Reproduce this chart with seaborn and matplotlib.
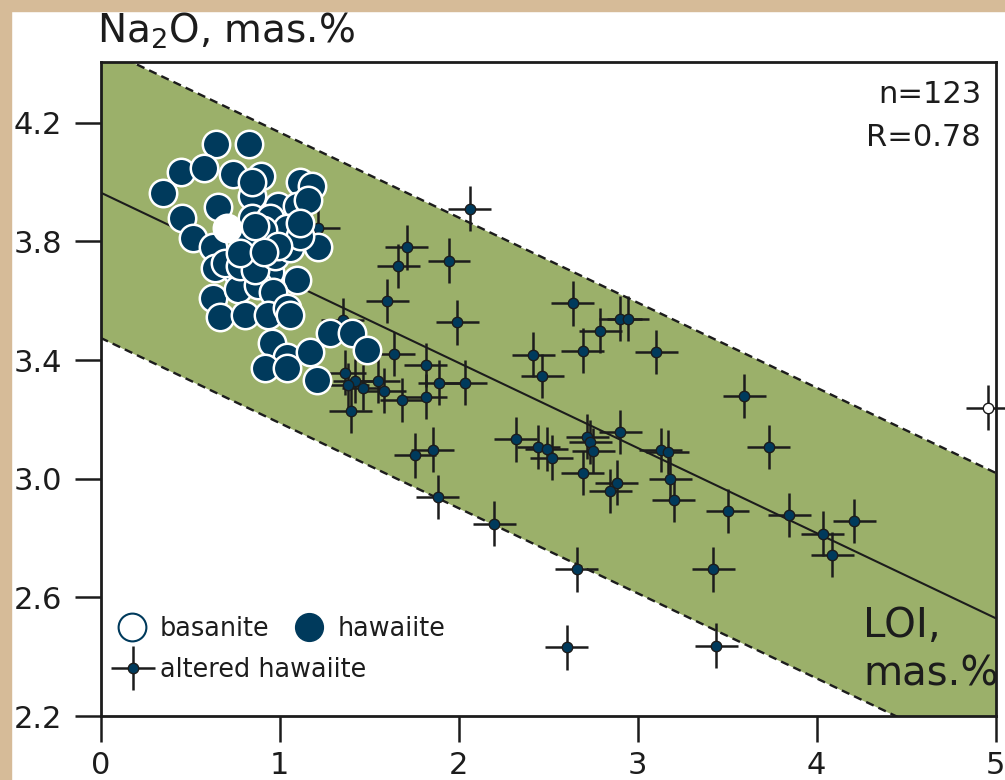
import numpy as np
import pandas as pd
import matplotlib
matplotlib.use("Agg")
import matplotlib.pyplot as plt
from matplotlib.patches import Rectangle
from matplotlib.lines import Line2D
from matplotlib.container import ErrorbarContainer
from matplotlib.legend_handler import HandlerErrorbar
import seaborn as sns

# ---- data: LOI (mas.%) vs Na2O (mas.%) ----
hawaiite_loi = [0.643, 0.829, 0.447, 0.577, 0.741, 0.896, 1.114, 1.179, 0.347, 0.844,
                0.654, 0.993, 1.096, 1.160, 0.458, 0.844, 0.518, 0.946, 1.040, 0.909,
                0.835, 1.216, 0.629, 0.639, 0.760, 0.946, 1.096, 0.629, 0.769, 0.881,
                0.963, 0.667, 0.807, 0.937, 1.040, 1.058, 0.956, 1.040, 0.918, 1.040,
                1.170, 1.282, 1.403, 1.207, 1.487, 0.695, 0.779, 0.863, 0.779, 0.975,
                1.058, 1.114, 0.991, 0.913, 1.114, 0.863, 0.846]
hawaiite_na2o = [4.128, 4.128, 4.033, 4.046, 4.027, 4.020, 4.001, 3.988, 3.962, 3.953,
                 3.915, 3.919, 3.919, 3.939, 3.878, 3.880, 3.810, 3.878, 3.845, 3.838,
                 3.815, 3.782, 3.782, 3.709, 3.697, 3.697, 3.669, 3.608, 3.641, 3.653,
                 3.630, 3.546, 3.551, 3.551, 3.574, 3.551, 3.456, 3.411, 3.372, 3.372,
                 3.428, 3.490, 3.490, 3.332, 3.433, 3.728, 3.718, 3.704, 3.762, 3.752,
                 3.779, 3.819, 3.786, 3.765, 3.863, 3.852, 4.000]

basanite_loi = [0.704]
basanite_na2o = [3.844]

altered_loi = [2.064, 1.216, 1.710, 1.663, 1.947, 1.602, 1.993, 1.353, 1.639, 2.638,
               2.903, 2.947, 2.791, 2.694, 3.104, 2.418, 2.467, 1.818, 1.893, 2.038,
               1.818, 1.683, 1.366, 1.421, 1.380, 1.468, 1.552, 1.584, 1.399, 2.321,
               2.446, 2.493, 2.520, 2.720, 2.735, 2.753, 2.903, 3.129, 3.169, 2.694,
               2.884, 2.849, 3.184, 1.757, 1.856, 1.884, 3.203, 2.200, 3.596, 3.732,
               3.505, 3.849, 4.034, 4.212, 4.089, 3.423, 2.661, 2.605, 3.439]
altered_na2o = [3.911, 3.846, 3.780, 3.718, 3.735, 3.599, 3.527, 3.535, 3.420, 3.591,
                3.540, 3.540, 3.499, 3.432, 3.428, 3.418, 3.346, 3.384, 3.324, 3.324,
                3.277, 3.266, 3.358, 3.329, 3.315, 3.307, 3.330, 3.297, 3.230, 3.133,
                3.107, 3.100, 3.071, 3.142, 3.124, 3.095, 3.158, 3.096, 3.090, 3.020,
                2.987, 2.959, 2.998, 3.079, 3.098, 2.939, 2.929, 2.849, 3.279, 3.107,
                2.891, 2.877, 2.815, 2.858, 2.744, 2.694, 2.694, 2.431, 2.437]

outlier_loi = [4.956]
outlier_na2o = [3.240]

loi_err = 0.12
na2o_err = 0.075

fit_intercept = 3.965
fit_slope = -0.287
band_halfwidth = 0.49

x_ticks = [0, 1, 2, 3, 4, 5]
y_ticks = [2.2, 2.6, 3.0, 3.4, 3.8, 4.2]

n_label = "n=123"
r_label = "R=0.78"

# ---- style ----
sns.set_style("ticks")
plt.rcParams["font.family"] = ["DejaVu Sans"]
plt.rcParams["mathtext.default"] = "regular"

navy = "#003a5c"
green = "#9bb06a"
ink = "#1c1c1c"
beige = "#d6bb98"

fig = plt.figure(figsize=(10.05, 7.8), dpi=100, facecolor="white")
fig.patches.append(Rectangle((0, 1 - 11 / 780), 1, 11 / 780, transform=fig.transFigure,
                             color=beige, zorder=0))
fig.patches.append(Rectangle((0, 0), 11 / 1005, 1, transform=fig.transFigure,
                             color=beige, zorder=0))

ax = fig.add_axes([100.5 / 1005, 64 / 780, 895 / 1005, 654 / 780])
ax.set_xlim(0, 5)
ax.set_ylim(2.2, 4.405)

# confidence band and regression line
fit = pd.DataFrame({"loi": np.array([0.0, 5.0])})
fit["na2o"] = fit_intercept + fit_slope * fit["loi"]
fit["upper"] = fit["na2o"] + band_halfwidth
fit["lower"] = fit["na2o"] - band_halfwidth
ax.fill_between(fit["loi"], fit["lower"], fit["upper"], color=green, lw=0, zorder=1)
dash = (0, (3.5, 2.2))
sns.lineplot(data=fit, x="loi", y="upper", ax=ax, color=ink, lw=1.7,
             linestyle=dash, zorder=2)
sns.lineplot(data=fit, x="loi", y="lower", ax=ax, color=ink, lw=1.7,
             linestyle=dash, zorder=2)
sns.lineplot(data=fit, x="loi", y="na2o", ax=ax, color=ink, lw=1.5, zorder=2)

# altered hawaiite with error crosses
altered = ax.errorbar(altered_loi, altered_na2o, xerr=loi_err, yerr=na2o_err,
                      fmt="o", ms=7.5, mfc=navy, mec=ink, mew=1.0,
                      ecolor=ink, elinewidth=1.8, capsize=0, zorder=3)
outl = ax.errorbar(outlier_loi, outlier_na2o, xerr=loi_err, yerr=na2o_err,
                   fmt="o", ms=7.5, mfc="white", mec=ink, mew=1.0,
                   ecolor=ink, elinewidth=1.8, capsize=0, zorder=3)
for art in outl.get_children():
    art.set_clip_on(False)

# hawaiite and basanite
haw = pd.DataFrame({"loi": hawaiite_loi, "na2o": hawaiite_na2o})
bas = pd.DataFrame({"loi": basanite_loi, "na2o": basanite_na2o})
sns.scatterplot(data=haw, x="loi", y="na2o", ax=ax, s=390, color=navy,
                edgecolor="white", linewidth=1.8, zorder=4, legend=False)
sns.scatterplot(data=bas, x="loi", y="na2o", ax=ax, s=390, color="white",
                edgecolor="white", linewidth=1.8, zorder=5, legend=False)

# axes cosmetics
ax.set_xticks(x_ticks)
ax.set_yticks(y_ticks)
ax.set_xticklabels([f"{v:d}" for v in x_ticks])
ax.set_yticklabels([f"{v:.1f}" for v in y_ticks])
ax.tick_params(axis="both", direction="out", length=19, width=1.8, color=ink,
               labelsize=22, labelcolor=ink)
ax.tick_params(axis="y", pad=8.5)
ax.tick_params(axis="x", pad=6.5)
for sp in ax.spines.values():
    sp.set_visible(True)
    sp.set_linewidth(2.0)
    sp.set_color(ink)
ax.set_xlabel("")
ax.set_ylabel("")

# annotations
fig.text(97 / 1005, (780 - 43) / 780, "Na$_2$O, mas.%", fontsize=28, color=ink,
         ha="left", va="baseline")
ax.text(0.9838, 0.9373, n_label, transform=ax.transAxes, fontsize=22, color=ink,
        ha="right", va="baseline")
ax.text(0.9838, 0.8716, r_label, transform=ax.transAxes, fontsize=22, color=ink,
        ha="right", va="baseline")
ax.text(0.852, 0.1208, "LOI,", transform=ax.transAxes, fontsize=29, color=ink,
        ha="left", va="baseline")
ax.text(0.852, 0.0459, "mas.%", transform=ax.transAxes, fontsize=29, color=ink,
        ha="left", va="baseline")

# legends
h_bas = Line2D([], [], marker="o", ls="", ms=20, mfc="white", mec=navy, mew=1.5)
h_haw = Line2D([], [], marker="o", ls="", ms=20, mfc=navy, mec=navy, mew=1.0)
leg1 = ax.legend([h_bas, h_haw], ["basanite", "hawaiite"], ncol=2,
                 loc="center left", bbox_to_anchor=(0.0177, 0.1326),
                 frameon=False, fontsize=18.4, handlelength=1.2,
                 handletextpad=0.5, columnspacing=0.96, borderpad=0,
                 borderaxespad=0, labelcolor=ink)
ax.add_artist(leg1)
ax.legend([altered], ["altered hawaiite"], loc="center left",
          bbox_to_anchor=(0.0134, 0.0703), frameon=False, fontsize=18.4,
          handlelength=1.6, handletextpad=0.25, borderpad=0, borderaxespad=0,
          labelcolor=ink,
          handler_map={ErrorbarContainer: HandlerErrorbar(xerr_size=0.85,
                                                          yerr_size=0.85)})

fig.savefig("out.png", dpi=100, facecolor="white")
